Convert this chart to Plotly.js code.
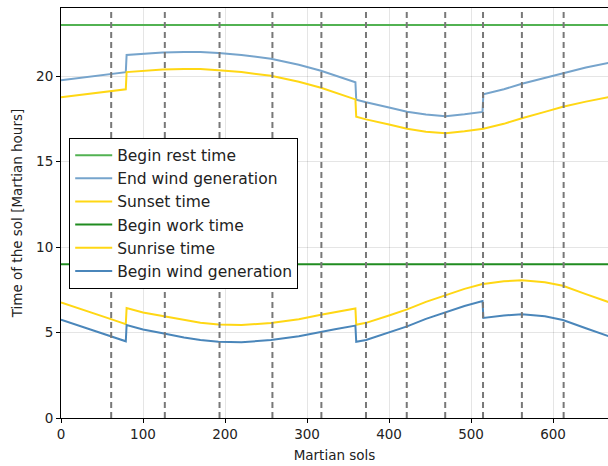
<!DOCTYPE html>
<html>
<head>
<meta charset="utf-8">
<script src="https://cdn.plot.ly/plotly-3.0.1.min.js"></script>
<style>html,body{margin:0;padding:0;background:#fff;}#chart{width:608px;height:466px;}</style>
</head>
<body>
<div id="chart"></div>
<script>
// Martian sols at which the curves were read
const sols = [0, 20, 40, 60, 79, 80, 100, 124, 150, 170, 192, 220, 256, 290, 317, 334, 359, 360, 372, 400, 422, 445, 469, 492, 514, 515, 540, 562, 590, 612, 640, 668];
const sunsetTime = [18.77, 18.90, 19.02, 19.13, 19.24, 20.25, 20.33, 20.40, 20.43, 20.43, 20.36, 20.25, 20.03, 19.68, 19.33, 19.06, 18.65, 17.63, 17.48, 17.18, 16.93, 16.76, 16.67, 16.78, 16.92, 16.93, 17.22, 17.55, 17.92, 18.22, 18.52, 18.79];
const endWind = [19.77, 19.90, 20.02, 20.13, 20.24, 21.25, 21.33, 21.40, 21.43, 21.43, 21.36, 21.25, 21.03, 20.68, 20.33, 20.06, 19.65, 18.63, 18.48, 18.18, 17.93, 17.76, 17.67, 17.78, 17.92, 18.95, 19.24, 19.57, 19.92, 20.20, 20.52, 20.79];
const sunriseTime = [6.76, 6.45, 6.12, 5.80, 5.49, 6.44, 6.18, 5.96, 5.71, 5.57, 5.47, 5.44, 5.56, 5.78, 6.05, 6.20, 6.41, 5.46, 5.57, 6.00, 6.36, 6.80, 7.21, 7.56, 7.84, 7.85, 8.00, 8.07, 7.95, 7.74, 7.25, 6.78];
const beginWind = [5.76, 5.45, 5.12, 4.80, 4.49, 5.44, 5.18, 4.96, 4.71, 4.57, 4.47, 4.44, 4.56, 4.78, 5.05, 5.20, 5.41, 4.46, 4.57, 5.00, 5.36, 5.80, 6.21, 6.56, 6.84, 5.86, 6.00, 6.07, 5.95, 5.74, 5.25, 4.78];
const restSols = [0, 668];
const beginRest = [23, 23];
const beginWork = [9, 9];
// Month boundaries (vertical dashed lines)
const monthStarts = [61.2, 126.6, 193.3, 257.8, 317.5, 371.9, 421.6, 468.5, 514.6, 562.0, 612.9];
const xTicks = [0, 100, 200, 300, 400, 500, 600];
const yTicks = [0, 5, 10, 15, 20];

const font = 'DejaVu Sans, sans-serif';
function tr(name, x, y, color, group) {
  return {type: 'scatter', mode: 'lines', name: name, x: x, y: y,
          line: {color: color, width: 2}, legendgroup: group, hoverinfo: 'skip'};
}
const data = [
  tr('Begin rest time', restSols, beginRest, 'rgb(82,178,82)', 'a'),
  tr('End wind generation', sols, endWind, 'rgb(118,164,204)', 'b'),
  tr('Sunset time', sols, sunsetTime, 'rgb(255,215,20)', 'c'),
  tr('Begin work time', restSols, beginWork, 'rgb(32,140,32)', 'd'),
  tr('Sunrise time', sols, sunriseTime, 'rgb(255,215,20)', 'e'),
  tr('Begin wind generation', sols, beginWind, 'rgb(74,134,186)', 'f')
];
const shapes = monthStarts.map(m => ({
  type: 'line', xref: 'x', yref: 'paper', x0: m, x1: m, y0: 0, y1: 1,
  line: {color: 'rgb(120,120,120)', width: 2, dash: '6px,4px'}, layer: 'above'
}));
const layout = {
  width: 608, height: 466,
  margin: {l: 61, r: 0, t: 8, b: 48},
  paper_bgcolor: '#fff', plot_bgcolor: '#fff',
  font: {family: font, size: 13.5, color: '#222'},
  showlegend: true,
  legend: {x: 0.015, y: 0.684, xanchor: 'left', yanchor: 'top',
           bgcolor: '#fff', bordercolor: '#000', borderwidth: 1,
           font: {family: font, size: 15.5, color: '#222'}, tracegroupgap: 4,
           itemwidth: 37, traceorder: 'normal'},
  xaxis: {range: [0, 667], tickvals: xTicks, ticktext: xTicks.map(String),
          showgrid: true, gridcolor: 'rgba(0,0,0,0.1)', gridwidth: 1,
          zeroline: false, showline: true, mirror: true, linecolor: '#000', linewidth: 1,
          ticks: 'outside', ticklen: 4, tickcolor: '#000',
          title: {text: 'Martian sols', font: {family: font, size: 13.5, color: '#222'}, standoff: 9}},
  yaxis: {range: [0, 24], tickvals: yTicks, ticktext: yTicks.map(String),
          showgrid: true, gridcolor: 'rgba(0,0,0,0.1)', gridwidth: 1,
          zeroline: false, showline: true, mirror: true, linecolor: '#000', linewidth: 1,
          ticks: 'outside', ticklen: 4, tickcolor: '#000',
          title: {text: 'Time of the sol [Martian hours]', font: {family: font, size: 13.5, color: '#222'}, standoff: 10}},
  shapes: shapes
};
Plotly.newPlot('chart', data, layout, {displayModeBar: false, staticPlot: true});
</script>
</body>
</html>
